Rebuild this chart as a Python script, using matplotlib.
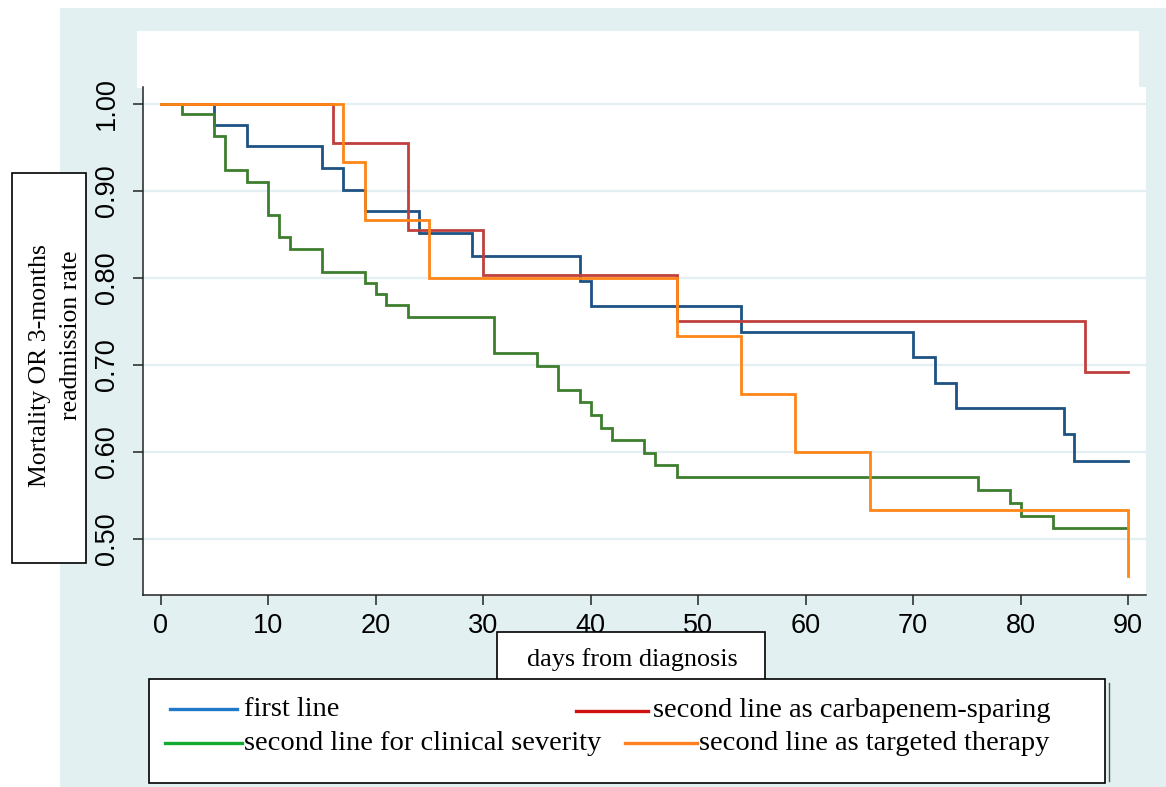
import matplotlib
matplotlib.use("Agg")
import matplotlib.pyplot as plt
from matplotlib.patches import Rectangle
from matplotlib.lines import Line2D

# ---------------- data ----------------
first_t = [0, 5, 8, 15, 17, 19, 24, 29, 39, 40, 54, 70, 72, 74, 84, 85, 90]
first_s = [1.0, 0.9755, 0.9518, 0.9264, 0.9008, 0.8763, 0.8514, 0.825, 0.796,
           0.7678, 0.738, 0.7085, 0.679, 0.650, 0.620, 0.5897, 0.5897]

carb_t = [0, 16, 23, 30, 48, 86, 90]
carb_s = [1.0, 0.955, 0.855, 0.803, 0.750, 0.692, 0.692]

sev_t = [0, 2, 5, 6, 8, 10, 11, 12, 15, 19, 20, 21, 23, 31, 35, 37, 39, 40,
         41, 42, 45, 46, 48, 76, 79, 80, 83, 90]
sev_s = [1.0, 0.9878, 0.963, 0.9238, 0.9104, 0.8717, 0.8464, 0.8334, 0.807,
         0.7943, 0.7813, 0.7683, 0.7548, 0.7138, 0.6989, 0.6713, 0.6568, 0.6422,
         0.6276, 0.6134, 0.5989, 0.585, 0.5705, 0.5556, 0.5414, 0.5264, 0.512, 0.512]

targ_t = [0, 17, 19, 25, 48, 54, 59, 66, 90]
targ_s = [1.0, 0.9333, 0.8667, 0.80, 0.7333, 0.6667, 0.60, 0.5333, 0.457]

series_names = ["first line", "second line as carbapenem-sparing",
                "second line for clinical severity", "second line as targeted therapy"]

x_ticks = [0, 10, 20, 30, 40, 50, 60, 70, 80, 90]
y_ticks = [0.50, 0.60, 0.70, 0.80, 0.90, 1.00]
y_tick_labels = ["0.50", "0.60", "0.70", "0.80", "0.90", "1.00"]
x_title = "days from diagnosis"
y_title_lines = ["Mortality OR 3-months", "readmission rate"]

# ---------------- styling ----------------
W, H = 1166, 787
BG = "#e2f0f1"
GRID = "#e3eff2"
plot_cols = ["#1d5283", "#c0403f", "#3d7f2e", "#ff8517"]
leg_cols = ["#1f78c8", "#d01010", "#12aa30", "#ff8020"]
SANS = ["Liberation Sans", "DejaVu Sans"]
SERIF = ["Liberation Serif", "DejaVu Serif"]

def fx(x):
    return x / W

def fy(y):
    return 1 - y / H

fig = plt.figure(figsize=(W / 100, H / 100), dpi=100)
fig.patch.set_facecolor("white")

# light blue graph region
fig.add_artist(Rectangle((fx(60), 0), 1 - fx(60), fy(8), transform=fig.transFigure,
                         facecolor=BG, edgecolor="none", zorder=-10))
# white title area
fig.add_artist(Rectangle((fx(137), fy(88)), fx(1139 - 137), (88 - 31) / H,
                         transform=fig.transFigure, facecolor="white",
                         edgecolor="none", zorder=-9))

ax = fig.add_axes([fx(143), fy(594.7), fx(1146 - 143), (594.7 - 86.7) / H])
ax.set_facecolor("white")
ax.set_axisbelow(True)

for t, s, c in zip([first_t, carb_t, sev_t, targ_t],
                   [first_s, carb_s, sev_s, targ_s], plot_cols):
    ax.step(t, s, where="post", color=c, lw=2.0, solid_joinstyle="miter", zorder=3)

ax.set_xlim(-1.647, 91.66)
ax.set_ylim(0.4356, 1.0195)
ax.set_xticks(x_ticks)
ax.set_xticklabels([str(v) for v in x_ticks], fontsize=19.5, family=SANS)
ax.set_yticks(y_ticks)
ax.set_yticklabels(y_tick_labels, fontsize=19.5, family=SANS, rotation=90, va="center")
ax.grid(axis="y", color=GRID, lw=1.6)
ax.grid(axis="x", visible=False)

for side in ["top", "right"]:
    ax.spines[side].set_visible(False)
for side in ["left", "bottom"]:
    ax.spines[side].set_color("#222222")
    ax.spines[side].set_linewidth(1.1)
ax.tick_params(axis="both", direction="out", length=7.5, width=1.1, color="#222222")
ax.tick_params(axis="x", pad=6)
ax.tick_params(axis="y", pad=9)

# y-axis title box
fig.add_artist(Rectangle((fx(12), fy(563)), fx(86 - 12), (563 - 173) / H,
                         transform=fig.transFigure, facecolor="white",
                         edgecolor="black", lw=1.2, zorder=5))
fig.text(fx(40), fy(366), y_title_lines[0], rotation=90, ha="center", va="center",
         fontsize=18.5, family=SERIF, zorder=6)
fig.text(fx(71), fy(335), y_title_lines[1], rotation=90, ha="center", va="center",
         fontsize=18.5, family=SERIF, zorder=6)

# x-axis title box
fig.add_artist(Rectangle((fx(497), fy(683)), fx(765 - 497), (683 - 632) / H,
                         transform=fig.transFigure, facecolor="white",
                         edgecolor="black", lw=1.2, zorder=5))
fig.text(fx(632), fy(666), x_title, ha="center", va="baseline",
         fontsize=18.8, family=SERIF, zorder=6)

# legend box
fig.add_artist(Line2D([fx(1108.5), fx(1108.5)], [fy(683), fy(781)],
                      transform=fig.transFigure, color="#555555", lw=1.0, zorder=4))
fig.add_artist(Rectangle((fx(149), fy(783)), fx(1105 - 149), (783 - 679) / H,
                         transform=fig.transFigure, facecolor="white",
                         edgecolor="black", lw=1.2, zorder=5))

leg_layout = [
    ((170, 237, 709), (244, 716)),
    ((576, 648, 711), (653, 717)),
    ((165, 242, 743), (244, 750)),
    ((625, 697, 743), (699, 750)),
]
for name, col, ((x0, x1, yl), (tx, ty)) in zip(series_names, leg_cols, leg_layout):
    fig.add_artist(Line2D([fx(x0), fx(x1)], [fy(yl), fy(yl)], transform=fig.transFigure,
                          color=col, lw=2.4, zorder=6))
    fig.text(fx(tx), fy(ty), name, ha="left", va="baseline", fontsize=20.5,
             family=SERIF, zorder=6)

fig.savefig("out.png", dpi=100)
